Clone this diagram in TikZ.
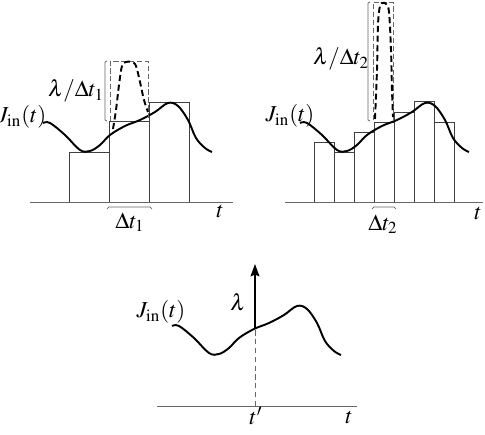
\documentclass[tikz,border=0pt]{standalone}
\usepackage{fontspec}
\setmainfont{Liberation Serif}
\usepackage{mathptmx}
\usepackage{tikz}
\usetikzlibrary{arrows.meta}

\tikzset{
  jcurve/.pic={
    \draw[curve] plot[smooth, tension=0.6] coordinates {
      (0,0) (7,0) (22,12) (37,27) (47,28) (57,22) (67,12) (82,3) (97,-3)
      (112,-11) (125,-20) (135,-17) (145,-3) (153,15) (162,25) (169,29)};
  }
}

\begin{document}
\begin{tikzpicture}[
    x=0.02cm, y=-0.02cm,
    >=Stealth,
    curve/.style={line width=1.1pt, black},
    bar/.style={draw=black!75, line width=0.4pt},
    axis/.style={draw=black!60, line width=0.5pt},
    pulse/.style={line width=1.1pt, dashed, dash pattern=on 3.5pt off 2pt},
    pulsebox/.style={draw=black!60, line width=0.4pt, dashed, dash pattern=on 3pt off 1.5pt},
    bracket/.style={draw=black!60, line width=0.4pt},
    lbl/.style={font=\fontsize{13}{15}\selectfont, inner sep=0pt},
]
\useasboundingbox (0,0) rectangle (485,435);

% --- Left panel: wide bins ---
\foreach \xa/\top in {69/152, 109/121, 149/102}
  \draw[bar] (\xa,202) rectangle ++(40,\top-202);
\draw[axis] (30,202) -- (233,202);
\pic at (43,123) {jcurve};
\draw[pulsebox] (110,121) |- (148,61) -- (148,121);
\draw[pulse] plot[smooth, tension=0.6] coordinates {
  (113,129) (116,110) (119,85) (122,66) (126,62) (132,62) (136,66)
  (140,82) (144,100) (148,112)};
\draw[bracket] (107,61) -- (105,62) -- (105,120) -- (107,121);
\draw[bracket] (107,209) -- (109,207) -- (150,207) -- (152,209);
\node[lbl] (jleft) at (22,117) {$J_{\mathrm{in}}(t)$};
\node[lbl] (hleft) at (76,91) {$\lambda/\Delta t_1$};
\node[lbl] (dleft) at (130,222) {$\Delta t_1$};
\node[lbl] (tleft) at (220,211) {$t$};

% --- Right panel: narrow bins ---
\foreach \xa/\top in {314/142, 334/152, 354/132, 374/122, 394/112, 414/101, 434/122}
  \draw[bar] (\xa,202) rectangle ++(20,\top-202);
\draw[axis] (285,202) -- (483,202);
\pic at (300,123) {jcurve};
\draw[pulsebox] (373,120) |- (393,2) -- (393,120);
\draw[pulse] plot[smooth, tension=0.6] coordinates {
  (375,119) (377,70) (378,25) (380,6) (383,3) (386,4) (389,12)
  (391,50) (392,90) (393,117)};
\draw[bracket] (370,2) -- (368,3) -- (368,120) -- (370,121);
\draw[bracket] (372,209) -- (374,207) -- (394,207) -- (396,209);
\node[lbl] (jright) at (290,116) {$J_{\mathrm{in}}(t)$};
\node[lbl] (hright) at (341,59) {$\lambda/\Delta t_2$};
\node[lbl] (dright) at (383,224) {$\Delta t_2$};
\node[lbl] (tright) at (478,213) {$t$};

% --- Bottom panel: delta pulse ---
\draw[axis] (157,406) -- (357,406);
\pic at (172,326) {jcurve};
\coordinate (tbase) at (255,406);
\coordinate (tpoint) at (255,328);
\coordinate (tip) at (255,264);
\draw[axis, dashed, dash pattern=on 3pt off 2pt] (tbase) -- (tpoint);
\draw[line width=1.1pt, -{Stealth[length=7pt, width=5pt, inset=1pt]}] (tpoint) -- (tip);
\node[lbl] (jbottom) at (161,312) {$J_{\mathrm{in}}(t)$};
\node[lbl] (lam) at (238,302) {$\lambda$};
\node[lbl] (tprime) at (256,416) {$t'$};
\node[lbl] (tbottom) at (349,417) {$t$};
\end{tikzpicture}
\end{document}
